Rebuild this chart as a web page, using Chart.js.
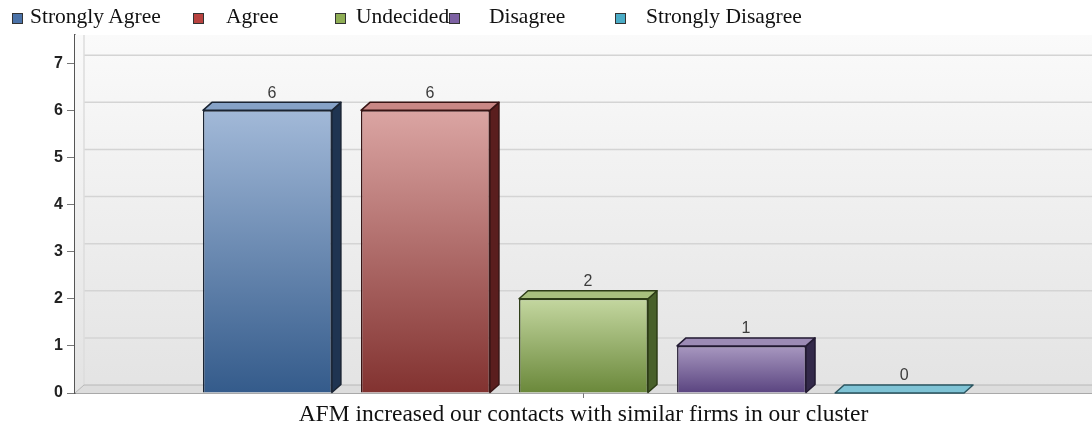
<!DOCTYPE html>
<html>
<head>
  <meta charset="UTF-8">
  <title>AFM contacts survey</title>
  <script src="https://cdn.jsdelivr.net/npm/chart.js"></script>
  <style>
    body { margin: 0; background: #fff; width: 1092px; height: 429px; overflow: hidden; position: relative; }
    #wrap { position: absolute; left: 0; top: 0; width: 1092px; height: 429px; }
    #legend { position: absolute; left: 0; top: 0; width: 1092px; height: 34px; font-family: "Liberation Serif", "Times New Roman", serif; font-size: 21.5px; color: #111; }
    #legend .box { position: absolute; top: 13px; width: 9px; height: 9px; border: 1px solid #333; }
    #legend .txt { position: absolute; top: 4px; white-space: nowrap; }
  </style>
</head>
<body>
  <div id="wrap"><canvas id="chart"></canvas></div>
  <div id="legend"></div>

  <script>
    const categories = ["AFM increased our contacts with similar firms in our cluster"];
    const responses = ["Strongly Agree", "Agree", "Undecided", "Disagree", "Strongly Disagree"];
    const counts = [6, 6, 2, 1, 0];
    const yTicks = [0, 1, 2, 3, 4, 5, 6, 7];

    // colours per response: front gradient light/dark, side, top, outline, legend swatch
    const palette = [
      { light: "#a2b9d8", dark: "#345b8b", side: "#1f3451", top: "#86a2c7", line: "#1a2433", swatch: "#4a72a8" },
      { light: "#dba5a3", dark: "#823230", side: "#5a1e1e", top: "#c98785", line: "#381414", swatch: "#b8423f" },
      { light: "#c4d7a0", dark: "#6a883a", side: "#48602a", top: "#a8c07e", line: "#2d3c17", swatch: "#8fae55" },
      { light: "#a898c0", dark: "#5a4480", side: "#33294a", top: "#9c8bb5", line: "#231b33", swatch: "#7d61a3" },
      { light: "#8fd0e0", dark: "#4a9fb5", side: "#2d6c7c", top: "#7fc3d5", line: "#2b5560", swatch: "#4bacc6" }
    ];

    // legend positions (px) copied from the picture's uneven spacing
    const legendBoxX = [12, 193, 335, 449, 615];
    const legendTxtX = [30, 226, 356, 489, 646];
    const legend = document.getElementById("legend");
    responses.forEach((r, i) => {
      legend.innerHTML += `<span class="box" style="left:${legendBoxX[i]}px;background:${palette[i].swatch}"></span>` +
                          `<span class="txt" style="left:${legendTxtX[i]}px">${r}</span>`;
    });

    const DX = 9, DY = 8;  // 3d depth

    function frontFill(i) {
      return c => {
        const chart = c.chart;
        const y = chart.scales && chart.scales.y;
        if (!chart.chartArea || !y) return palette[i].dark;
        const top = y.getPixelForValue(c.raw || 0), bot = y.getPixelForValue(0);
        if (bot - top < 1) return palette[i].dark;
        const g = chart.ctx.createLinearGradient(0, top, 0, bot);
        g.addColorStop(0, palette[i].light);
        g.addColorStop(1, palette[i].dark);
        return g;
      };
    }

    const wallPlugin = {
      id: "wall",
      beforeDatasetsDraw(chart) {
        const { ctx, chartArea: a, scales } = chart;
        ctx.save();
        const g = ctx.createLinearGradient(0, a.top, 0, a.bottom);
        g.addColorStop(0, "#fafafa");
        g.addColorStop(1, "#e3e3e3");
        ctx.fillStyle = g;
        ctx.fillRect(a.left, a.top, a.right - a.left, a.bottom - a.top);
        // back wall grid lines
        ctx.strokeStyle = "#d4d4d4";
        ctx.lineWidth = 1.5;
        yTicks.slice(1).forEach(v => {
          const py = scales.y.getPixelForValue(v) - DY;
          ctx.beginPath();
          ctx.moveTo(a.left + DX, py);
          ctx.lineTo(a.right, py);
          ctx.stroke();
        });
        ctx.strokeStyle = "#dcdcdc";
        ctx.beginPath();
        ctx.moveTo(a.left + DX, a.top);
        ctx.lineTo(a.left + DX, a.bottom - DY);
        ctx.stroke();
        // floor
        ctx.fillStyle = "#dddddd";
        ctx.beginPath();
        ctx.moveTo(a.left, a.bottom);
        ctx.lineTo(a.left + DX, a.bottom - DY);
        ctx.lineTo(a.right, a.bottom - DY);
        ctx.lineTo(a.right, a.bottom);
        ctx.closePath();
        ctx.fill();
        ctx.strokeStyle = "#b8b8b8";
        ctx.lineWidth = 1;
        ctx.beginPath();
        ctx.moveTo(a.left, a.bottom);
        ctx.lineTo(a.left + DX, a.bottom - DY);
        ctx.lineTo(a.right, a.bottom - DY);
        ctx.stroke();
        ctx.restore();
      },
      afterDatasetsDraw(chart) {
        const ctx = chart.ctx;
        ctx.save();
        chart.data.datasets.forEach((ds, i) => {
          const meta = chart.getDatasetMeta(i);
          meta.data.forEach((bar, j) => {
            const p = palette[i];
            const l = bar.x - bar.width / 2, r = bar.x + bar.width / 2;
            const t = bar.y, b = bar.base;
            ctx.lineWidth = 1.5;
            ctx.strokeStyle = p.line;
            ctx.lineJoin = "round";
            if (b - t > 0.5) {
              ctx.fillStyle = p.side;
              ctx.beginPath();
              ctx.moveTo(r, t);
              ctx.lineTo(r + DX, t - DY);
              ctx.lineTo(r + DX, b - DY);
              ctx.lineTo(r, b);
              ctx.closePath();
              ctx.fill();
              ctx.stroke();
            }
            ctx.fillStyle = p.top;
            ctx.beginPath();
            ctx.moveTo(l, t);
            ctx.lineTo(l + DX, t - DY);
            ctx.lineTo(r + DX, t - DY);
            ctx.lineTo(r, t);
            ctx.closePath();
            ctx.fill();
            ctx.stroke();
            ctx.fillStyle = "#3c3c3c";
            ctx.font = "16px 'Liberation Sans', Arial, sans-serif";
            ctx.textAlign = "center";
            ctx.textBaseline = "bottom";
            ctx.fillText(String(ds.data[j]), bar.x + DX / 2, t - DY - 1);
          });
        });
        ctx.restore();
      }
    };

    new Chart(document.getElementById("chart"), {
      type: "bar",
      data: {
        labels: categories,
        datasets: responses.map((r, i) => ({
          label: r,
          data: [counts[i]],
          backgroundColor: frontFill(i),
          borderColor: palette[i].line,
          borderWidth: 1.5,
          categoryPercentage: 0.777,
          barPercentage: 0.816
        }))
      },
      options: {
        responsive: true,
        maintainAspectRatio: false,
        animation: false,
        layout: { padding: { top: 35, left: 0, right: 0, bottom: 0 } },
        plugins: { legend: { display: false }, tooltip: { enabled: false } },
        scales: {
          x: {
            afterFit: s => { s.height = 36; },
            grid: { display: true, drawOnChartArea: false, offset: false, tickLength: 5, color: "#777" },
            border: { display: true, color: "#555", width: 1.5 },
            ticks: { display: false },
            title: {
              display: true,
              text: categories[0],
              color: "#111",
              font: { family: "'Liberation Serif', 'Times New Roman', serif", size: 23.5 },
              padding: { top: 0, bottom: 0 }
            }
          },
          y: {
            min: 0,
            max: 7.6,
            afterFit: s => { s.width = 75; },
            grid: { display: true, drawOnChartArea: false, tickLength: 8, color: "#777" },
            border: { display: true, color: "#555", width: 1.5 },
            ticks: {
              stepSize: 1,
              includeBounds: false,
              padding: 4,
              color: "#222",
              font: { family: "'Liberation Sans', Arial, sans-serif", size: 16, weight: "bold" }
            }
          }
        }
      },
      plugins: [wallPlugin]
    });
  </script>
</body>
</html>
